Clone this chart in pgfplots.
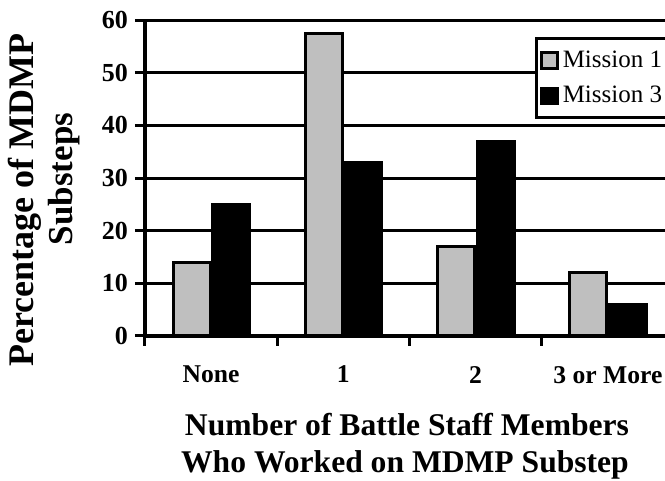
\documentclass[border=0pt]{standalone}
\usepackage{fontspec}
\setmainfont{Liberation Serif}
\usepackage{pgfplots}
\pgfplotsset{compat=1.18}
\pgfplotsset{sq legend/.style={legend image code/.code={\draw[##1, line width=1.2pt] (0pt,-4pt) rectangle (8pt,4pt);}}}
\begin{document}
\begin{tikzpicture}
\begin{axis}[
  at={(72.5pt,72.5pt)}, anchor=south west,
  scale only axis, width=264.5pt, height=158pt,
  xmin=-0.5, xmax=3.5, ymin=0, ymax=60,
  ytick={0,10,...,60},
  xtick={0,1,2,3},
  xticklabels={None,1,2,3 or More},
  minor xtick={-0.5,0.5,1.5,2.5},
  axis x line*=bottom, axis y line*=left,
  axis line style={-, line width=1.6pt},
  ymajorgrids, grid style={black, line width=1.5pt},
  tick align=outside,
  major tick length=5pt, minor tick length=5pt,
  tick style={black, line width=1.5pt},
  every major x tick/.append style={draw=none},
  /pgf/number format/assume math mode=true,
  ticklabel style={font=\bfseries\fontsize{13}{15}\selectfont},
  xticklabel style={yshift=-6.5pt, font=\bfseries\fontsize{12.8}{15}\selectfont},
  clip=false,
  legend style={at={(0.737,0.945)}, anchor=north west, draw=black,
    line width=1.5pt, font=\fontsize{12.5}{15}\selectfont,
    inner xsep=2pt, inner ysep=4pt, row sep=4pt},
  legend cell align=left,
]
\addplot[ybar, bar width=18.5pt, bar shift=-9.75pt, fill=black!25, draw=black, line width=1.5pt, sq legend]
  coordinates {(0,14) (1,57.5) (2,17) (3,12)};
\addplot[ybar, bar width=18.5pt, bar shift=10pt, fill=black, draw=black, line width=1.5pt, sq legend]
  coordinates {(0,25) (1,33) (2,37) (3,6)};
\legend{Mission 1, Mission 3}
\end{axis}
% axis titles
\node[rotate=90, font=\bfseries\fontsize{18}{20}\selectfont] at (12.5pt,140.5pt) {Percentage of MDMP};
\node[rotate=90, font=\bfseries\fontsize{17.5}{20}\selectfont] at (32pt,151pt) {Substeps};
\node[anchor=base, font=\bfseries\fontsize{15.8}{18}\selectfont] at (203.5pt,22.75pt) {Number of Battle Staff Members};
\node[anchor=base, font=\bfseries\fontsize{15.8}{18}\selectfont] at (202.5pt,4.25pt) {Who Worked on MDMP Substep};
\pgfresetboundingbox
\path (0,0) rectangle (332.5pt,240.5pt);
\end{tikzpicture}
\end{document}
